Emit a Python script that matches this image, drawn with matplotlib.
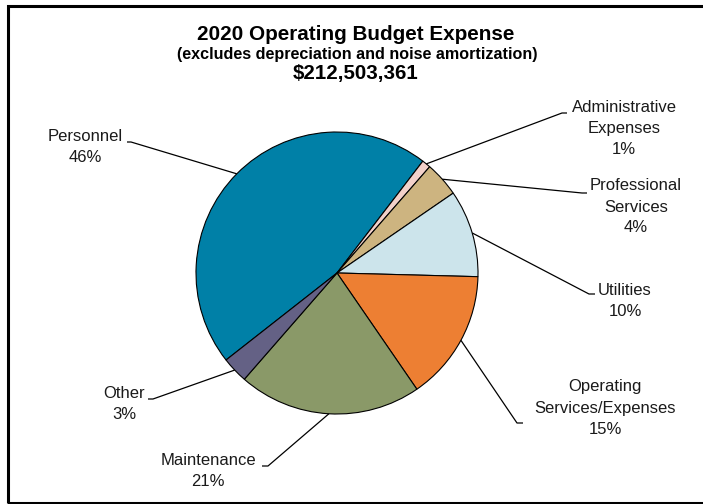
import numpy as np
import matplotlib
matplotlib.use("Agg")
import matplotlib.pyplot as plt
from matplotlib.patches import Rectangle

plt.rcParams['font.family'] = ['Liberation Sans', 'DejaVu Sans']

# Expense categories, listed clockwise starting with Personnel
categories = ["Personnel", "Administrative\nExpenses", "Professional\nServices",
              "Utilities", "Operating\nServices/Expenses", "Maintenance", "Other"]
shares = [46, 1, 4, 10, 15, 21, 3]  # percent of total
colors = ["#0080A7", "#F2D1CA", "#CDB480", "#CCE4EB", "#ED7F33", "#8A9968", "#646185"]

title = "2020 Operating Budget Expense"
subtitle = "(excludes depreciation and noise amortization)"
total_label = "$212,503,361"

W, H = 703, 504
fig = plt.figure(figsize=(W / 100, H / 100), dpi=100)
ax = fig.add_axes([0, 0, 1, 1])


def up(y):
    """Convert a top-down pixel row into axis units."""
    return H - y


cx, cy, r = 337, up(273), 141
wedges, _ = ax.pie(shares, colors=colors, startangle=218.1, counterclock=False,
                   center=(cx, cy), radius=r, frame=True,
                   wedgeprops=dict(edgecolor="black", linewidth=0.8))
ax.set_xlim(0, W)
ax.set_ylim(0, H)
ax.set_aspect("equal")
ax.axis("off")

# label text centres, leader elbow and leader end (pixels, top-down)
layout = [
    ((85, 147), (131, 142), (127, 142)),
    ((624, 128), (562, 113), (567, 113)),
    ((636, 207), (582, 193), (587, 193)),
    ((625, 301), (589, 294), (595, 294)),
    ((605, 408), (517, 423), (523, 423)),
    ((208, 471), (268, 466), (262, 466)),
    ((124, 404), (153, 399), (148, 399)),
]

for w, name, pct, (tpos, elbow, end) in zip(wedges, categories, shares, layout):
    mid = np.deg2rad((w.theta1 + w.theta2) / 2)
    ex, ey = cx + r * np.cos(mid), cy + r * np.sin(mid)
    ax.plot([ex, elbow[0], end[0]], [ey, up(elbow[1]), up(end[1])],
            color="black", linewidth=0.9, solid_capstyle="butt")
    ax.text(tpos[0], up(tpos[1]), f"{name}\n{pct}%", ha="center", va="center",
            fontsize=12, color="#1a1a1a", linespacing=1.5)

ax.text(356, up(35), title, ha="center", va="center", fontsize=14.9,
        fontweight="bold", color="black")
ax.text(357, up(54), subtitle, ha="center", va="center", fontsize=11.6,
        fontweight="bold", color="black")
ax.text(356, up(74), total_label, ha="center", va="center", fontsize=14.8,
        fontweight="bold", color="black")

# outer frame
fig.patches.append(Rectangle((8 / W, 1.5 / H), (W + 5 - 8) / W, (H - 6 - 1.5) / H,
                             transform=fig.transFigure, fill=False,
                             edgecolor="black", linewidth=2.2))

fig.savefig("out.png", dpi=100)
